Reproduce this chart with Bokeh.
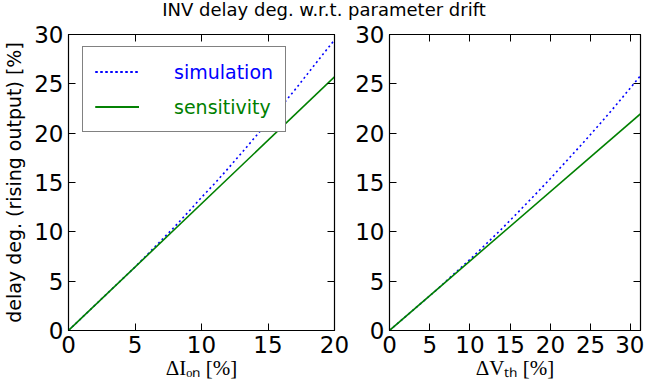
from bokeh.plotting import figure
from bokeh.layouts import column, row
from bokeh.models import (Div, Range1d, FixedTicker, LinearAxis, Legend, LegendItem)
from bokeh.embed import file_html
from bokeh.resources import INLINE

# ---- data ----
title_text = "INV delay deg. w.r.t. parameter drift"
ylabel = "delay deg. (rising output) [%]"
xlabel_left = "ΔIₒₙ [%]"
xlabel_right = "ΔVₜₕ [%]"
series_names = ["simulation", "sensitivity"]

left_x = [0, 1, 2, 3, 4, 5, 6, 7, 8, 9, 10, 11, 12, 13, 14, 15, 16, 17, 18, 19, 20]
left_sim = [0, 1.29, 2.58, 3.87, 5.15, 6.43, 7.80, 9.17, 10.54, 12.00, 13.49,
            14.91, 16.42, 17.97, 19.55, 21.13, 22.72, 24.35, 26.06, 27.77, 29.45]
left_sens_x = [0, 20]
left_sens = [0, 25.7]

right_x = [0, 2, 4, 6, 8, 10, 12, 14, 16, 18, 20, 22, 24, 26, 28, 30, 32, 33]
right_sim = [0, 1.41, 2.82, 4.22, 5.73, 7.20, 8.76, 10.34, 12.00, 13.68, 15.40,
             17.18, 18.96, 20.79, 22.69, 24.64, 26.62, 27.65]
right_sens_x = [0, 33]
right_sens = [0, 23.23]

left_xticks = [0, 5, 10, 15, 20]
right_xticks = [0, 5, 10, 15, 20, 25, 30]
yticks = [0, 5, 10, 15, 20, 25, 30]

BLUE = "#0000ff"
GREEN = "#008000"
TICK_FONT = "23px"


def tick_only_axis(ticks):
    # ticks drawn inside, no labels (minor ticks carry the marks)
    return LinearAxis(ticker=FixedTicker(ticks=[], minor_ticks=ticks),
                      major_tick_in=0, major_tick_out=0,
                      minor_tick_in=7, minor_tick_out=0,
                      minor_tick_line_color="black", major_label_standoff=0,
                      axis_line_color="black")


def style(p, xticks, has_right=True):
    p.outline_line_color = "black"
    p.outline_line_width = 1.2
    p.xgrid.visible = False
    p.ygrid.visible = False
    p.background_fill_color = "white"
    p.border_fill_alpha = 0.0
    for ax in p.below + p.left:
        ax.major_tick_in = 7
        ax.major_tick_out = 0
        ax.minor_tick_line_color = None
        ax.axis_line_color = "black"
        ax.major_tick_line_color = "black"
        ax.major_label_text_font = "DejaVu Sans"
        ax.major_label_text_font_size = TICK_FONT
        ax.major_label_text_color = "black"
        ax.major_label_standoff = 5
        ax.axis_label_text_font_style = "normal"
        ax.axis_label_text_color = "black"
    p.below[0].ticker = FixedTicker(ticks=xticks)
    p.left[0].ticker = FixedTicker(ticks=yticks)
    p.add_layout(tick_only_axis(xticks), "above")
    if has_right:
        p.add_layout(tick_only_axis(yticks), "right")


# ---- left plot ----
p1 = figure(frame_width=266, frame_height=296, x_range=Range1d(0, 20), y_range=Range1d(0, 30),
            output_backend="svg", toolbar_location=None,
            min_border_left=64, min_border_right=18, min_border_top=14, min_border_bottom=55)
r_sim = p1.line(left_x, left_sim, line_color=BLUE, line_width=1.6, line_dash="2 3")
r_sens = p1.line(left_sens_x, left_sens, line_color=GREEN, line_width=1.6)
style(p1, left_xticks)
xb = p1.below[0]
xb.axis_label = xlabel_left
xb.axis_label_text_font = "Liberation Serif"
xb.axis_label_text_font_size = "21px"
xb.axis_label_standoff = 0
yl = p1.left[0]
yl.axis_label = ylabel
yl.axis_label_text_font = "DejaVu Sans"
yl.axis_label_text_font_size = "19px"
yl.axis_label_standoff = 6

leg_common = dict(padding=12, spacing=10, label_height=25, glyph_height=25, glyph_width=44,
                  label_standoff=35, label_text_font="DejaVu Sans",
                  label_text_font_size="19px", margin=0, location=(14, 198))
box_leg = Legend(items=[LegendItem(label=series_names[0], renderers=[r_sim]),
                        LegendItem(label=series_names[1], renderers=[r_sens])],
                 border_line_color="black", border_line_width=1.4,
                 background_fill_color="white", background_fill_alpha=1.0,
                 label_text_alpha=0.0, **leg_common)
sim_leg = Legend(items=[LegendItem(label=series_names[0], renderers=[r_sim]),
                        LegendItem(label=" ", renderers=[r_sens])],
                 border_line_color="white", border_line_alpha=0.01,
                 background_fill_alpha=0.0, label_text_color=BLUE, **leg_common)
sens_leg = Legend(items=[LegendItem(label=" ", renderers=[r_sim]),
                         LegendItem(label=series_names[1], renderers=[r_sens])],
                  border_line_color="white", border_line_alpha=0.01,
                  background_fill_alpha=0.0, label_text_color=GREEN, **leg_common)
p1.add_layout(box_leg, "center")
p1.add_layout(sim_leg, "center")
p1.add_layout(sens_leg, "center")

# ---- right plot ----
p2 = figure(frame_width=251, frame_height=296, x_range=Range1d(0, 31.2), y_range=Range1d(0, 30),
            output_backend="svg", toolbar_location=None,
            min_border_left=35, min_border_right=4, min_border_top=14, min_border_bottom=55)
p2.line(right_x, right_sim, line_color=BLUE, line_width=1.6, line_dash="2 3")
p2.line(right_sens_x, right_sens, line_color=GREEN, line_width=1.6)
style(p2, right_xticks)
xb2 = p2.below[0]
xb2.axis_label = xlabel_right
xb2.axis_label_text_font = "Liberation Serif"
xb2.axis_label_text_font_size = "21px"
xb2.axis_label_standoff = 0

title = Div(text=('<div style="width:638px;text-align:center;font-family:\'DejaVu Sans\';'
                  'font-size:18px;line-height:18px;position:relative;top:-4px;color:black;'
                  'white-space:nowrap">' + title_text + '</div>'),
            width=638, height=10)

layout = column(title, row(p1, p2, spacing=0), spacing=0)

open("out.html", "w").write(file_html(layout, INLINE))
